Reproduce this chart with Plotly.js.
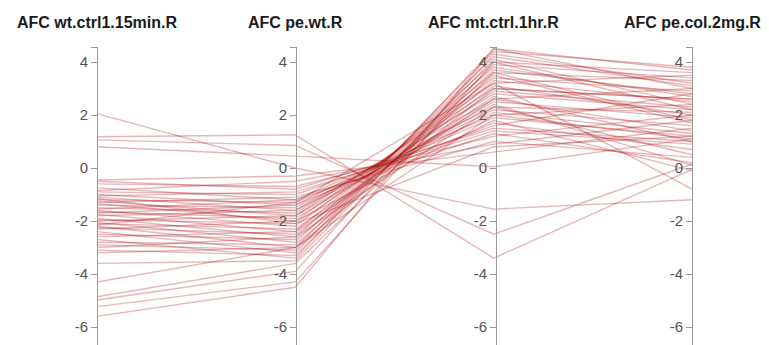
<!DOCTYPE html>
<html><head><meta charset="utf-8">
<script src="https://cdn.plot.ly/plotly-3.0.1.min.js"></script>
<style>html,body{margin:0;padding:0;background:#fff;overflow:hidden}</style>
</head><body><div id="chart" style="width:769px;height:345px"></div>
<script>
const dimLabels = ["AFC wt.ctrl1.15min.R", "AFC pe.wt.R", "AFC mt.ctrl.1hr.R", "AFC pe.col.2mg.R"];
const tickValues = [-6, -4, -2, 0, 2, 4];
const tickLabels = ["-6", "-4", "-2", "0", "2", "4"];

const wtCtrl15min = [2.05, 1.18, 1.06, 0.80,
  -0.45, -0.6, -0.75, -0.85, -0.9, -1.0, -1.05, -1.1, -1.2, -1.25, -1.3, -1.35, -1.4, -1.5, -1.55, -1.6,
  -1.65, -1.7, -1.75, -1.8, -1.9, -1.95, -2.0, -2.05, -2.1, -2.2, -2.25, -2.3, -2.4, -2.5, -2.6, -2.7,
  -2.8, -2.9, -3.0, -3.1, -3.2, -3.6, -4.3, -4.86, -4.98, -5.23, -5.6, -0.5, -1.15, -2.15];
const peWt = [0.0, 1.25, 0.85, 0.45,
  -0.3, -0.7, -1.2, -0.5, -1.0, -1.4, -0.9, -1.6, -1.3, -1.8, -1.1, -2.0, -1.5, -1.7, -1.2, -2.2,
  -1.9, -1.4, -2.4, -1.6, -2.6, -2.1, -1.8, -2.8, -2.3, -3.0, -2.5, -2.0, -3.2, -2.7, -2.4, -3.4,
  -2.9, -3.1, -2.6, -3.3, -3.0, -3.5, -3.0, -3.6, -3.9, -4.3, -4.5, -0.8, -2.1, -1.3];
const mtCtrl1hr = [-1.55, -3.4, -2.5, 0.05,
  0.6, 1.2, 2.0, 0.9, 1.6, 2.3, 1.4, 2.6, 1.9, 3.0, 1.0, 3.2, 2.2, 2.8, 1.3, 3.4,
  2.5, 1.7, 3.6, 2.1, 3.8, 2.9, 2.4, 4.0, 2.7, 4.2, 3.1, 1.8, 4.4, 3.3, 2.6, 4.5,
  3.5, 3.7, 2.3, 3.9, 2.0, 4.1, 3.0, 3.6, 4.3, 4.0, 4.5, 1.5, 0.8, 3.2];
const peCol2mg = [-1.2, -0.05, 0.15, 1.1,
  1.5, 2.0, 2.4, 1.8, 2.8, 2.1, 0.9, 3.0, 1.2, 2.6, 0.4, 3.5, 1.6, 2.2, 0.2, 2.9,
  1.9, 0.7, 3.3, 1.3, 2.7, 2.3, 0.1, 3.6, 1.0, 3.1, 2.0, -0.1, 3.8, 2.5, 1.4, 3.0,
  1.7, 2.8, 0.5, 3.4, 1.1, 2.4, 2.6, 1.8, 3.2, 2.2, 3.7, 1.0, 1.2, -0.8];

const series = [wtCtrl15min, peWt, mtCtrl1hr, peCol2mg];
const axisIndex = [0, 1, 2, 3];
const lineColor = "rgba(175,15,15,0.3)";

const W = 769, H = 345;
const axisPx = [97, 296, 496, 692];
const yRange = [(168 - 345) / 26.5, (168 - 47) / 26.5];
const yDomain = [0, (H - 47) / H];

const traces = wtCtrl15min.map((_, k) => ({
  type: "scatter", mode: "lines",
  x: axisIndex,
  y: series.map(s => s[k]),
  yaxis: k % 4 === 0 ? "y" : "y" + (k % 4 + 1),
  line: {color: lineColor, width: 1.4},
  hoverinfo: "skip", showlegend: false
}));

// x range so that axis index i sits at axisPx[i]
const R = 3 * W / (axisPx[3] - axisPx[0]);
const xmin = -axisPx[0] * R / W;

function yax(i) {
  const a = {
    range: yRange, domain: yDomain, anchor: "free", position: axisPx[i] / W,
    showline: true, linecolor: "#9a9a9a", linewidth: 1,
    ticks: "outside", ticklen: 6, tickcolor: "#9a9a9a", tickwidth: 1,
    tickvals: tickValues.concat([yRange[1] - 0.02]), ticktext: tickLabels.concat([""]),
    tickfont: {family: "Liberation Sans, Arial, sans-serif", size: 15, color: "#555"},
    showgrid: false, zeroline: false, fixedrange: true, side: "left"
  };
  if (i > 0) a.overlaying = "y";
  return a;
}

const layout = {
  width: W, height: H,
  margin: {l: 0, r: 0, t: 0, b: 0},
  paper_bgcolor: "#fff", plot_bgcolor: "rgba(0,0,0,0)",
  showlegend: false,
  xaxis: {range: [xmin, xmin + R], domain: [0, 1], visible: false, fixedrange: true},
  yaxis: yax(0), yaxis2: yax(1), yaxis3: yax(2), yaxis4: yax(3),
  annotations: dimLabels.map((t, i) => ({
    text: "<b>" + t + "</b>", x: axisIndex[i], xref: "x", y: (H - 23) / H, yref: "paper",
    xanchor: "center", yanchor: "middle", showarrow: false,
    font: {family: "Liberation Sans, Arial, sans-serif", size: 16, color: "#1a1a1a"}
  }))
};

Plotly.newPlot("chart", traces, layout, {displayModeBar: false});
</script>
</body></html>
